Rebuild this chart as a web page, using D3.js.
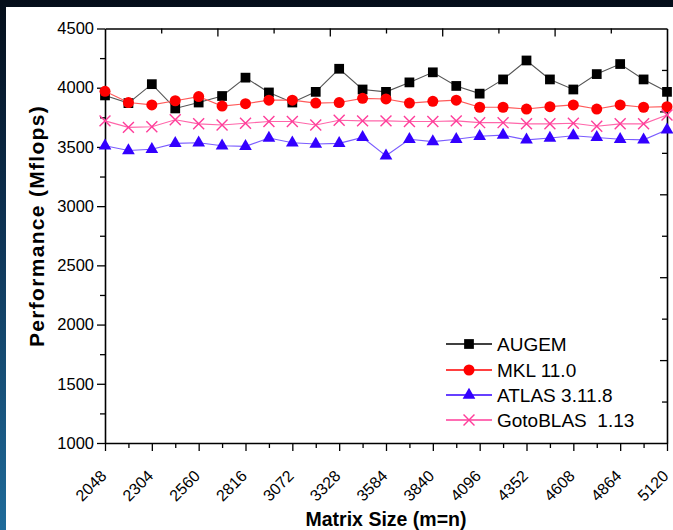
<!DOCTYPE html>
<html>
<head>
<meta charset="utf-8">
<script src="https://cdn.jsdelivr.net/npm/d3@7/dist/d3.min.js"></script>
<style>
  html, body { margin: 0; padding: 0; background: #061423; }
  svg { display: block; }
  text { font-family: "Liberation Sans", Arial, sans-serif; }
</style>
</head>
<body>
<svg id="chart" width="673" height="530"></svg>
<script>
// Matrix sizes (m = n), step 128
const sizes = [2048, 2176, 2304, 2432, 2560, 2688, 2816, 2944, 3072, 3200, 3328, 3456, 3584,
               3712, 3840, 3968, 4096, 4224, 4352, 4480, 4608, 4736, 4864, 4992, 5120];

// Performance in Mflops for each library
const augem = [3935, 3870, 4030, 3825, 3875, 3930, 4085, 3960, 3875, 3965, 4160, 3985, 3965,
               4045, 4130, 4015, 3950, 4070, 4230, 4070, 3985, 4115, 4200, 4070, 3965];
const mkl   = [3970, 3875, 3855, 3890, 3925, 3845, 3865, 3895, 3895, 3870, 3875, 3910, 3905,
               3870, 3885, 3895, 3835, 3835, 3820, 3840, 3855, 3820, 3855, 3835, 3840];
const atlas = [3510, 3470, 3480, 3530, 3535, 3510, 3505, 3575, 3535, 3525, 3530, 3580, 3425,
               3565, 3545, 3565, 3590, 3600, 3560, 3575, 3595, 3580, 3565, 3560, 3645];
const goto  = [3720, 3665, 3670, 3730, 3695, 3685, 3700, 3715, 3715, 3685, 3725, 3720, 3720,
               3715, 3715, 3720, 3705, 3705, 3695, 3695, 3700, 3675, 3695, 3695, 3770];

const seriesNames = ["AUGEM", "MKL 11.0", "ATLAS 3.11.8", "GotoBLAS  1.13"];

// Axis tick labels
const xTickLabels = [2048, 2304, 2560, 2816, 3072, 3328, 3584, 3840, 4096, 4352, 4608, 4864, 5120];
const yTickLabels = [1000, 1500, 2000, 2500, 3000, 3500, 4000, 4500];

const svg = d3.select("#chart");
const W = 673, H = 530;

// Backdrop and white panel
const defs = svg.append("defs");
const grad = defs.append("linearGradient").attr("id", "bg")
  .attr("x1", 0).attr("y1", 0).attr("x2", 0).attr("y2", 1);
grad.append("stop").attr("offset", "0%").attr("stop-color", "#040d19");
grad.append("stop").attr("offset", "40%").attr("stop-color", "#0d3050");
grad.append("stop").attr("offset", "100%").attr("stop-color", "#1f6b9a");
svg.append("rect").attr("width", W).attr("height", H).attr("fill", "url(#bg)");
svg.append("rect").attr("x", 6).attr("y", 7).attr("width", W - 6).attr("height", H - 7).attr("fill", "#ffffff");

const plot = { left: 105, right: 667, top: 28.5, bottom: 443 };

const x = d3.scaleLinear().domain([2048, 5120]).range([plot.left, plot.right]);
const y = d3.scaleLinear().domain([1000, 4500]).range([plot.bottom, plot.top]);

const g = svg.append("g");

// Bottom axis: labelled majors every 256, minors every 128
const xMinor = d3.range(2048, 5121, 128).filter(v => (v - 2048) % 256 !== 0);
g.append("g").attr("transform", `translate(0,${plot.bottom})`)
  .call(d3.axisBottom(x).tickValues(xMinor).tickSize(5).tickFormat(""))
  .call(a => a.select(".domain").remove());
const xAxis = g.append("g").attr("transform", `translate(0,${plot.bottom})`)
  .call(d3.axisBottom(x).tickValues(xTickLabels).tickSize(8).tickSizeOuter(0).tickFormat(d3.format("d")));
xAxis.selectAll("text")
  .attr("font-size", 16)
  .attr("fill", "#000")
  .attr("text-anchor", "end")
  .attr("dy", 0)
  .attr("y", 0)
  .attr("transform", "translate(2,34) rotate(-45)");

// Left axis: labelled majors every 500, minors every 250
const yMinor = d3.range(1250, 4500, 500);
g.append("g").attr("transform", `translate(${plot.left},0)`)
  .call(d3.axisLeft(y).tickValues(yMinor).tickSize(5).tickFormat(""))
  .call(a => a.select(".domain").remove());
const yAxis = g.append("g").attr("transform", `translate(${plot.left},0)`)
  .call(d3.axisLeft(y).tickValues(yTickLabels).tickSize(8).tickSizeOuter(0).tickPadding(3).tickFormat(d3.format("d")));
yAxis.selectAll("text").attr("font-size", 16.5).attr("fill", "#000");

// Top and right frame with inward ticks
const topMajor = d3.range(1, 5).map(k => 2048 + k * 614.4);
const topMinor = d3.range(0, 5).map(k => 2048 + (k + 0.5) * 614.4);
g.append("g").attr("transform", `translate(0,${plot.top})`)
  .call(d3.axisTop(x).tickValues(topMajor).tickSize(-8).tickSizeOuter(0).tickFormat(""));
g.append("g").attr("transform", `translate(0,${plot.top})`)
  .call(d3.axisTop(x).tickValues(topMinor).tickSize(-5).tickFormat(""))
  .call(a => a.select(".domain").remove());
const rightMajor = d3.range(1, 5).map(k => 1000 + k * 700);
const rightMinor = d3.range(0, 5).map(k => 1000 + (k + 0.5) * 700);
g.append("g").attr("transform", `translate(${plot.right},0)`)
  .call(d3.axisRight(y).tickValues(rightMajor).tickSize(-7).tickSizeOuter(0).tickFormat(""));
g.append("g").attr("transform", `translate(${plot.right},0)`)
  .call(d3.axisRight(y).tickValues(rightMinor).tickSize(-5).tickFormat(""))
  .call(a => a.select(".domain").remove());

g.selectAll(".domain").attr("stroke", "#000").attr("stroke-width", 1.6);
g.selectAll(".tick line").attr("stroke", "#000").attr("stroke-width", 1.3);

// Axis titles
svg.append("text")
  .attr("x", (plot.left + plot.right) / 2).attr("y", 526)
  .attr("text-anchor", "middle").attr("font-size", 19.5).attr("font-weight", "bold")
  .text("Matrix Size (m=n)");
svg.append("text")
  .attr("transform", "translate(44,226) rotate(-90)")
  .attr("text-anchor", "middle").attr("font-size", 21).attr("font-weight", "bold")
  .attr("letter-spacing", 1.3)
  .text("Performance (Mflops)");

// Series
const series = [
  { name: seriesNames[0], values: augem, line: "#555555", fill: "#000000", sym: d3.symbolSquare, size: 95 },
  { name: seriesNames[1], values: mkl,   line: "#ff5a5a", fill: "#ff0000", sym: d3.symbolCircle, size: 95 },
  { name: seriesNames[2], values: atlas, line: "#7a5cff", fill: "#3300ff", sym: d3.symbolTriangle, size: 70 },
  { name: seriesNames[3], values: goto,  line: "#ff66aa", fill: "none",    sym: d3.symbolX, size: 80, stroke: "#ff3d9a" }
];

const lineGen = d3.line().x((d, i) => x(sizes[i])).y(d => y(d));

series.forEach(s => {
  g.append("path").datum(s.values)
    .attr("fill", "none").attr("stroke", s.line).attr("stroke-width", 1.1)
    .attr("d", lineGen);
  g.append("g").selectAll("path").data(s.values).join("path")
    .attr("transform", (d, i) => `translate(${x(sizes[i])},${y(d)})`)
    .attr("d", d3.symbol().type(s.sym).size(s.size))
    .attr("fill", s.fill)
    .attr("stroke", s.stroke || "none")
    .attr("stroke-width", s.stroke ? 1.4 : 0);
});

// Legend
const legend = svg.append("g");
const legendRowY = [344, 370, 395, 420];
series.forEach((s, i) => {
  const row = legend.append("g").attr("transform", `translate(0,${legendRowY[i]})`);
  row.append("line").attr("x1", 446).attr("x2", 492).attr("y1", 0).attr("y2", 0)
    .attr("stroke", i === 0 ? "#000" : s.fill === "none" ? s.stroke : s.fill).attr("stroke-width", 1.3);
  row.append("path").attr("transform", "translate(469,0)")
    .attr("d", d3.symbol().type(s.sym).size(s.size))
    .attr("fill", s.fill).attr("stroke", s.stroke || "none").attr("stroke-width", s.stroke ? 1.4 : 0);
  row.append("text").attr("x", 497).attr("y", 0).attr("dy", "0.36em")
    .attr("font-size", 19).attr("fill", "#000")
    .style("white-space", "pre")
    .text(s.name);
});
</script>
</body>
</html>
